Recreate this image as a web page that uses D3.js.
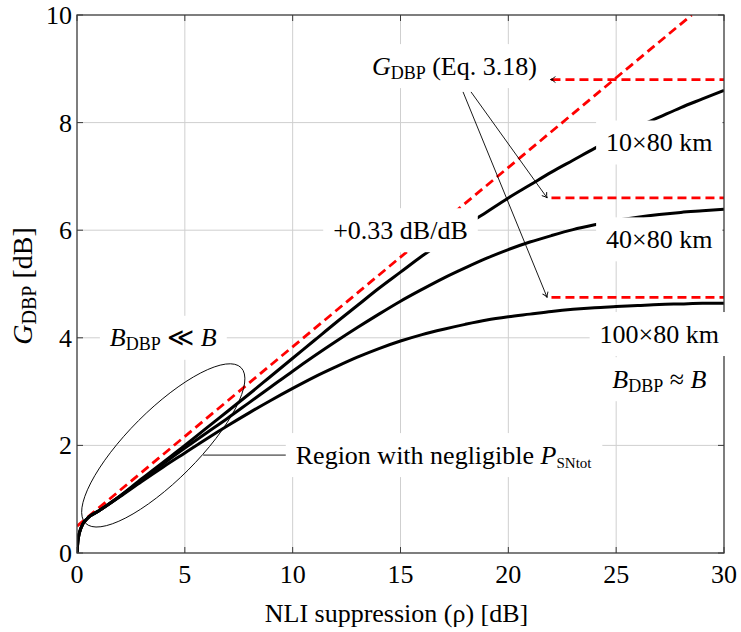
<!DOCTYPE html>
<html>
<head>
<meta charset="utf-8">
<script src="https://cdn.jsdelivr.net/npm/d3@7"></script>
<style>
  body { margin: 0; background: #fff; }
  svg text { font-family: "Liberation Serif", "DejaVu Serif", serif; white-space: pre; }
</style>
</head>
<body>
<svg id="chart" width="741" height="632"></svg>
<script>
// NLI suppression rho [dB] and DBP gain [dB] for the three link lengths
const rho = [0, 0.05, 0.2, 0.5, 1, 2, 3, 4, 5, 6, 7, 8, 9, 10, 11, 12, 13, 14, 15,
  16, 17, 18, 19, 20, 21, 22, 23, 24, 25, 26, 27, 28, 29, 30];
const gain10 = [0, 0.25, 0.48, 0.65, 0.78, 1.06, 1.38, 1.69, 2.0, 2.32, 2.64, 2.96, 3.29,
  3.62, 3.95, 4.28, 4.6, 4.92, 5.22, 5.52, 5.8, 6.08, 6.34, 6.6, 6.84, 7.08, 7.3, 7.52,
  7.72, 7.92, 8.1, 8.28, 8.44, 8.6];
const gain40 = [0, 0.25, 0.48, 0.65, 0.78, 1.06, 1.36, 1.66, 1.95, 2.23, 2.51, 2.8, 3.09,
  3.38, 3.66, 3.93, 4.19, 4.44, 4.68, 4.9, 5.11, 5.3, 5.48, 5.64, 5.78, 5.9, 6.01, 6.1,
  6.18, 6.24, 6.29, 6.33, 6.36, 6.39];
const gain100 = [0, 0.25, 0.48, 0.65, 0.78, 1.05, 1.33, 1.6, 1.86, 2.12, 2.37, 2.61, 2.84,
  3.06, 3.27, 3.46, 3.64, 3.8, 3.94, 4.06, 4.16, 4.25, 4.33, 4.39, 4.44, 4.49, 4.53, 4.56,
  4.58, 4.6, 4.62, 4.63, 4.64, 4.64];

// +0.33 dB/dB asymptote and G_DBP saturation levels (Eq. 3.18)
const slopeLine = [[0, 0.5], [28.5, 10]];
const satLevels = [8.8, 6.6, 4.75];
const satRange = [22, 30];

const xTicks = [0, 5, 10, 15, 20, 25, 30];
const yTicks = [0, 2, 4, 6, 8, 10];

// annotation text: [text, kind]  kind: "i" italic, "sub"/"ssub" subscript
const notes = [
  { x: 17.5, y: 9.05, parts: [["G", "i"], ["DBP", "sub"], [" (Eq. 3.18)", ""]] },
  { x: 27, y: 7.63, parts: [["10×80 km", ""]] },
  { x: 27, y: 5.83, parts: [["40×80 km", ""]] },
  { x: 27, y: 4.07, parts: [["100×80 km", ""]] },
  { x: 27, y: 3.23, parts: [["B", "i"], ["DBP", "sub"], [" ≈ ", ""], ["B", "i"]] },
  { x: 4, y: 4.0, parts: [["B", "i"], ["DBP", "sub"], [" ≪ ", ""], ["B", "i"]] },
  { x: 15, y: 6, parts: [["+0.33 dB/dB", ""]] },
  { x: 17, y: 1.82, parts: [["Region with negligible ", ""], ["P", "i"], ["SNtot", "ssub"]] },
];

const margin = { top: 15, right: 17, bottom: 79, left: 77 };
const W = 741, H = 632;
const FS = 26;

const svg = d3.select("#chart");
const x = d3.scaleLinear().domain([0, 30]).range([margin.left, W - margin.right]);
const y = d3.scaleLinear().domain([0, 10]).range([H - margin.bottom, margin.top]);

svg.append("defs").append("clipPath").attr("id", "clip")
  .append("rect")
  .attr("x", x(0)).attr("y", y(10))
  .attr("width", x(30) - x(0)).attr("height", y(0) - y(10));

svg.select("defs").append("marker")
  .attr("id", "arr")
  .attr("viewBox", "-8 -5 10 10")
  .attr("markerWidth", 10).attr("markerHeight", 10)
  .attr("markerUnits", "userSpaceOnUse")
  .attr("orient", "auto")
  .append("path")
  .attr("d", "M-5,-3 Q-2,-0.5 0,0 Q-2,0.5 -5,3")
  .attr("fill", "none").attr("stroke", "#000").attr("stroke-width", 0.9);

// grid
const grid = svg.append("g").attr("stroke", "#cfcfcf").attr("stroke-width", 1);
grid.selectAll(".gx").data(xTicks.slice(1, -1)).join("line")
  .attr("x1", d => x(d)).attr("x2", d => x(d))
  .attr("y1", y(0)).attr("y2", y(10));
grid.selectAll(".gy").data(yTicks.slice(1, -1)).join("line")
  .attr("x1", x(0)).attr("x2", x(30))
  .attr("y1", d => y(d)).attr("y2", d => y(d));

const plot = svg.append("g").attr("clip-path", "url(#clip)");

// red dashed asymptote and saturation levels
const line = d3.line().x(d => x(d[0])).y(d => y(d[1]));
plot.append("path")
  .attr("d", line(slopeLine))
  .attr("fill", "none").attr("stroke", "#ff0000")
  .attr("stroke-width", 2.8).attr("stroke-dasharray", "9,5");
plot.selectAll(".sat").data(satLevels).join("line")
  .attr("x1", x(satRange[0])).attr("x2", x(satRange[1]))
  .attr("y1", d => y(d)).attr("y2", d => y(d))
  .attr("stroke", "#ff0000").attr("stroke-width", 2.8).attr("stroke-dasharray", "9,5");

// black curves
const curve = d3.line().x((d, i) => x(rho[i])).y(d => y(d)).curve(d3.curveMonotoneX);
plot.selectAll(".curve").data([gain10, gain40, gain100]).join("path")
  .attr("d", curve)
  .attr("fill", "none").attr("stroke", "#000")
  .attr("stroke-width", 3).attr("stroke-linejoin", "round");

// ellipse around the low-rho region
svg.append("ellipse")
  .attr("transform", `translate(${x(4)},${y(2)}) rotate(-45)`)
  .attr("rx", 110).attr("ry", 35)
  .attr("fill", "none").attr("stroke", "#000").attr("stroke-width", 0.9);

// frame and ticks
svg.append("rect")
  .attr("x", x(0)).attr("y", y(10))
  .attr("width", x(30) - x(0)).attr("height", y(0) - y(10))
  .attr("fill", "none").attr("stroke", "#3a3a3a").attr("stroke-width", 1.3);
const ticks = svg.append("g").attr("stroke", "#3a3a3a").attr("stroke-width", 1);
xTicks.forEach(t => {
  ticks.append("line").attr("x1", x(t)).attr("x2", x(t)).attr("y1", y(0)).attr("y2", y(0) - 6);
  ticks.append("line").attr("x1", x(t)).attr("x2", x(t)).attr("y1", y(10)).attr("y2", y(10) + 6);
});
yTicks.forEach(t => {
  ticks.append("line").attr("x1", x(0)).attr("x2", x(0) + 6).attr("y1", y(t)).attr("y2", y(t));
  ticks.append("line").attr("x1", x(30)).attr("x2", x(30) - 6).attr("y1", y(t)).attr("y2", y(t));
});

// tick labels
svg.append("g").selectAll("text").data(xTicks).join("text")
  .attr("x", d => x(d)).attr("y", y(0) + 30)
  .attr("text-anchor", "middle").attr("font-size", FS)
  .text(d => d);
svg.append("g").selectAll("text").data(yTicks).join("text")
  .attr("x", x(0) - 5).attr("y", d => y(d) + 9)
  .attr("text-anchor", "end").attr("font-size", FS)
  .text(d => d);

function richText(sel, parts, subSize = 18) {
  let shift = 0;
  parts.forEach(([t, k]) => {
    const ts = sel.append("tspan").text(t);
    if (k === "i") ts.attr("font-style", "italic");
    if (k === "sub") ts.attr("font-size", subSize);
    if (k === "ssub") ts.attr("font-size", 15);
    const want = (k === "sub" || k === "ssub") ? 4 : 0;
    if (want !== shift) { ts.attr("dy", want - shift); shift = want; }
  });
}

// axis titles
svg.append("text")
  .attr("x", (x(0) + x(30)) / 2 - 4).attr("y", 622)
  .attr("text-anchor", "middle").attr("font-size", FS)
  .text("NLI suppression (ρ) [dB]");
const yl = svg.append("text")
  .attr("transform", `translate(32,286) rotate(-90)`)
  .attr("text-anchor", "middle").attr("font-size", 28);
richText(yl, [["G", "i"], ["DBP", "sub"], [" [dB]", ""]], 20);

// boxed annotations
const boxes = {};
notes.forEach((n, i) => {
  const g = svg.append("g");
  const t = g.append("text")
    .attr("x", x(n.x)).attr("y", y(n.y) + 8.6)
    .attr("text-anchor", "middle").attr("font-size", FS);
  richText(t, n.parts);
  const bb = t.node().getBBox();
  const box = { x0: bb.x - 10, x1: bb.x + bb.width + 10, y0: y(n.y) - 22, y1: y(n.y) + 22 };
  g.insert("rect", "text")
    .attr("x", box.x0).attr("y", box.y0)
    .attr("width", box.x1 - box.x0).attr("height", box.y1 - box.y0)
    .attr("fill", "#fff");
  boxes[i] = box;
});

// leader from ellipse to the region label
svg.append("line")
  .attr("x1", x(5.85)).attr("x2", boxes[7].x0)
  .attr("y1", y(1.82)).attr("y2", y(1.82))
  .attr("stroke", "#000").attr("stroke-width", 0.9);

// arrows from G_DBP label to the saturation levels
const arrowFrom = [[17.9, 8.57], [18.27, 8.57]];
const arrowTo = [[21.8, 4.75], [21.8, 6.6]];
svg.append("g").selectAll("line").data(arrowFrom).join("line")
  .attr("x1", d => x(d[0])).attr("y1", d => y(d[1]))
  .attr("x2", (d, i) => x(arrowTo[i][0])).attr("y2", (d, i) => y(arrowTo[i][1]))
  .attr("stroke", "#000").attr("stroke-width", 0.9)
  .attr("marker-end", "url(#arr)");
// arrow tip onto the top level
svg.append("line")
  .attr("x1", x(satRange[0]) + 2).attr("x2", x(satRange[0]) - 1)
  .attr("y1", y(satLevels[0])).attr("y2", y(satLevels[0]))
  .attr("stroke", "#000").attr("stroke-width", 0.9)
  .attr("marker-end", "url(#arr)");
</script>
</body>
</html>
